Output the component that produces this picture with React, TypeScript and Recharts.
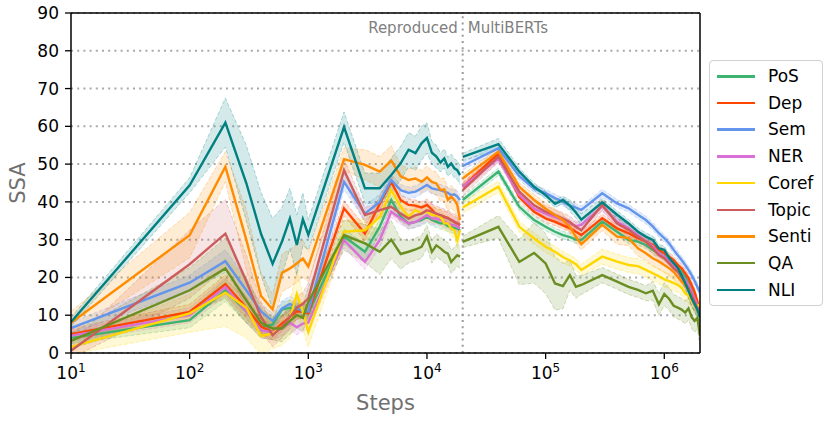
import React from "react";
import {
  ComposedChart,
  Line,
  Area,
  XAxis,
  YAxis,
  CartesianGrid,
  ReferenceLine,
} from "recharts";

// ---------- steps ----------
const reproSteps = [10, 100, 200, 300, 400, 500, 600, 700, 800, 900, 1000, 2000, 3000, 4000, 5000, 6000, 7000, 8000, 9000, 10000, 11000, 12000, 13000, 14000, 15000, 16000, 17000, 18000, 19000];
const gapStep = 19500;
const multiSteps = [20000, 40000, 60000, 80000, 100000, 120000, 140000, 160000, 180000, 200000, 300000, 400000, 500000, 600000, 700000, 800000, 900000, 1000000, 1100000, 1200000, 1300000, 1400000, 1500000, 1600000, 1700000, 1800000, 1900000, 2000000];
const xTicks = [10, 100, 1000, 10000, 100000, 1000000];
const yTicks = [0, 10, 20, 30, 40, 50, 60, 70, 80, 90];

// ---------- mean values (Reproduced) ----------
const posRepro = [4.0, 8.7, 16.6, 11, 7, 7.5, 11.5, 12, 11, 11.4, 10.5, 30.8, 26.8, 33.4, 40.5, 36.1, 34.3, 34.7, 35.2, 36.1, 35.2, 34.7, 34.3, 34.3, 33.6, 33.4, 33.0, 33.0, 32.5];
const depRepro = [5.0, 10.9, 18.2, 12, 7, 5.5, 7.8, 9.5, 11, 11, 10.5, 38.3, 31.6, 39.5, 45.3, 40.5, 39.2, 39.0, 38.5, 39.2, 38.0, 36.5, 36.5, 36.0, 35.8, 35.2, 34.7, 34.3, 33.9];
const semRepro = [6.6, 18.6, 24.3, 16.6, 11, 8.5, 11.8, 13, 12, 11, 11, 45.3, 36.9, 40.0, 45.8, 43.1, 42.4, 42.7, 43.6, 44.5, 43.6, 43.3, 43.1, 42.7, 42.4, 41.8, 42.0, 41.4, 40.5];
const nerRepro = [4.6, 10.0, 17.5, 11, 6, 5.5, 6.5, 8, 6.8, 7.8, 8, 29.9, 24.1, 29.9, 37.4, 35.6, 34.3, 34.7, 35.6, 36.5, 35.6, 35.6, 35.2, 34.7, 34.3, 33.9, 33.9, 33.4, 33.0];
const corefRepro = [1.6, 10.5, 16.0, 12, 4.5, 5.2, 7, 9, 15.6, 11, 5.6, 32.1, 32.5, 36, 43.1, 38.7, 36.1, 37.8, 37, 37.4, 36.5, 36.5, 36.1, 34.3, 34.3, 33.0, 32.5, 29.9, 32.5];
const topicRepro = [0.6, 23.5, 31.6, 19, 9.5, 4.7, 7, 9.5, 12, 13, 14.5, 48.4, 36.5, 37.8, 38.7, 36.9, 35.6, 36.5, 36.9, 37.8, 37.4, 36.9, 36.5, 36.1, 35.6, 35.2, 34.7, 34.3, 33.9];
const sentiRepro = [8.0, 31.2, 49.3, 30, 15.1, 11.5, 21.2, 22.4, 23.7, 25.0, 22.9, 51.3, 49.8, 48.0, 50.9, 46.8, 45.8, 46.2, 45.3, 46.5, 45.3, 44.9, 43.1, 43.3, 40.5, 41.4, 40.5, 39.2, 35.2];
const qaRepro = [3.2, 16.6, 22.4, 14, 8, 6.5, 6.5, 8.5, 10, 9.3, 13.5, 31.2, 29.0, 26.8, 30.0, 26.2, 26.8, 27.4, 28.1, 30.8, 26.8, 28.5, 27.7, 26.8, 26.3, 24.1, 25.0, 25.9, 25.5];
const nliRepro = [8.2, 44.4, 61.0, 45, 31.5, 23.6, 29.5, 35.6, 28.6, 35.4, 31.3, 59.8, 43.6, 43.6, 47.1, 50.2, 53.8, 52.9, 55.5, 56.9, 53.0, 52.0, 50.4, 51.5, 49.3, 50.2, 48.9, 48.4, 47.1];

// ---------- mean values (MultiBERTs) ----------
const posMulti = [40.5, 48.0, 38.7, 35.2, 33.4, 32.1, 31.2, 30.7, 30.0, 29.9, 34.8, 32.1, 29.9, 29.5, 28.6, 27.3, 26.4, 25.5, 24.6, 23.7, 22.4, 21.5, 20.2, 18.4, 16.7, 14.9, 13.1, 10.9];
const depMulti = [44.0, 52.8, 41.3, 37.4, 35.6, 34.7, 33.8, 33.0, 32.1, 31.2, 35.7, 33.0, 31.7, 30.4, 29.5, 28.6, 27.3, 26.4, 25.5, 24.6, 23.3, 22.4, 21.1, 19.8, 18.0, 16.2, 13.6, 10.5];
const semMulti = [49.5, 54.2, 46.8, 43.5, 42.3, 41.0, 40.0, 39.0, 38.5, 37.9, 42.3, 39.6, 38.3, 36.6, 35.2, 33.5, 31.7, 30.4, 29.0, 27.3, 25.9, 24.6, 23.3, 22.0, 20.6, 19.1, 17.5, 16.0];
const nerMulti = [44.0, 51.5, 41.8, 38.2, 36.9, 36.0, 35.2, 34.3, 33.6, 33.9, 38.8, 34.8, 33.0, 31.2, 29.5, 28.2, 26.4, 25.5, 24.2, 22.8, 22.0, 20.6, 19.3, 18.0, 16.2, 14.4, 12.7, 10.9];
const corefMulti = [38.5, 44.0, 33.4, 30.3, 28.1, 26.8, 25.4, 24.5, 23.5, 22.0, 25.5, 24.2, 23.3, 23.0, 22.0, 21.1, 20.3, 19.5, 19.0, 18.5, 18.0, 17.3, 15.8, 15.2, 14.0, 12.8, 12.4, 12.9];
const topicMulti = [43.1, 52.0, 42.7, 39.1, 37.4, 36.5, 35.6, 34.7, 33.4, 32.5, 39.2, 34.3, 32.6, 30.8, 29.5, 27.7, 25.9, 25.1, 23.7, 22.4, 21.5, 20.2, 18.4, 17.1, 15.3, 13.6, 11.8, 10.5];
const sentiMulti = [46.2, 53.3, 44.0, 40.5, 38.2, 36.5, 35.2, 33.4, 30.7, 28.8, 33.9, 30.8, 30.4, 27.7, 26.4, 25.1, 24.2, 23.3, 22.4, 21.5, 20.2, 18.9, 18.0, 16.7, 14.4, 12.7, 11.4, 10.5];
const qaMulti = [29.4, 33.4, 24.1, 26.5, 23.7, 18.4, 17.7, 20.6, 17.5, 18.0, 20.6, 18.9, 17.5, 16.7, 15.8, 16.5, 12.9, 15.6, 14.3, 12.5, 12.0, 11.5, 10.7, 11.8, 9.5, 8.5, 9.3, 4.6];
const nliMulti = [51.9, 55.3, 48.0, 44.0, 41.8, 39.5, 40.5, 39.0, 37.2, 35.3, 39.9, 36.6, 34.3, 32.1, 30.8, 29.9, 27.7, 27.3, 25.1, 23.8, 22.5, 20.5, 18.5, 16.5, 14.5, 13.0, 11.5, 9.5];

// ---------- spread (Reproduced) ----------
const posReproErr = [1.5, 2, 3, 3, 2, 2, 2, 2, 2, 2, 2, 2, 2, 2, 1.5, 1.5, 1.5, 1.5, 1.5, 1.5, 1.5, 1.5, 1.5, 1.5, 1.5, 1.5, 1.5, 1.5, 1.5];
const depReproErr = [1.5, 2, 2.5, 3, 2, 2, 2, 2, 2, 2, 2, 2, 2, 2, 1.5, 1.5, 1.5, 1.5, 1.5, 1.5, 1.5, 1.5, 1.5, 1.5, 1.5, 1.5, 1.5, 1.5, 1.5];
const semReproErr = [1.5, 2, 3, 3, 2, 2, 2, 2, 2, 2, 3, 2, 2, 2, 1.5, 1.5, 1.5, 1.5, 1.5, 1.5, 1.5, 1.5, 1.5, 1.5, 1.5, 1.5, 1.5, 1.5, 1.5];
const nerReproErr = [1.5, 2, 2.5, 3, 2, 2, 2, 2, 2, 2, 2, 2, 2, 2, 1.5, 1.5, 1.5, 1.5, 1.5, 1.5, 1.5, 1.5, 1.5, 1.5, 1.5, 1.5, 1.5, 1.5, 1.5];
const corefReproErr = [2, 5, 9, 8, 5, 4, 5, 5, 6, 5, 4, 3, 3, 3, 2.5, 2, 2, 2, 2, 2, 2, 2, 2, 2, 2, 2, 2, 2, 2];
const topicReproErr = [2, 9, 9, 7, 4, 3, 3, 3, 3, 3, 4, 3, 2, 2, 2, 2, 2, 2, 2, 2, 2, 2, 2, 2, 2, 2, 2, 2, 2];
const sentiReproErr = [3, 6, 4, 8, 6, 4, 5, 5, 5, 5, 4, 3, 4, 4, 4, 3, 3, 3, 3, 3, 3, 3, 3, 3, 3, 3, 3, 3, 3];
const qaReproErr = [2, 6, 8, 6, 4, 3, 3.5, 3.5, 3.5, 3.5, 4, 4, 5, 6, 5, 4, 3, 3, 3, 3, 3, 3, 3, 3, 3, 3, 3, 3, 3];
const nliReproErr = [1.2, 2, 6.5, 10, 11, 12, 9, 8, 8, 7, 4, 4, 4, 4, 4.5, 4.5, 4.5, 4.5, 4.5, 4, 3, 3, 2.5, 2.5, 2.5, 2.5, 2.5, 2.5, 2.5];

// ---------- spread (MultiBERTs) ----------
const posMultiErr = [1, 1, 1, 1, 1, 1, 1, 1, 1, 1, 1, 1, 1, 1, 1, 1, 1, 1, 1, 1, 1, 1, 1, 1, 1, 1, 1, 1];
const depMultiErr = [1, 1, 1, 1, 1, 1, 1, 1, 1, 1, 1, 1, 1, 1, 1, 1, 1, 1, 1, 1, 1, 1, 1, 1, 1, 1, 1, 1];
const semMultiErr = [1, 1, 1, 1, 1, 1, 1, 1, 1, 1, 1, 1, 1, 1, 1, 1, 1, 1, 1, 1, 1, 1, 1, 1, 1, 1, 1, 1];
const nerMultiErr = [1, 1, 1, 1, 1, 1, 1, 1, 1, 1, 1, 1, 1, 1, 1, 1, 1, 1, 1, 1, 1, 1, 1, 1, 1, 1, 1, 1];
const corefMultiErr = [1.5, 1.5, 1.5, 1.5, 1.5, 1.5, 1.5, 1.5, 1.5, 1.5, 2, 2, 2, 2, 2, 2, 2, 2, 2, 2, 2, 2, 2, 2, 2, 2, 2, 2];
const topicMultiErr = [1.5, 1.5, 1.5, 1.5, 1.5, 1.5, 1.5, 1.5, 1.5, 1.5, 1.5, 1.5, 1.5, 1.5, 1.5, 1.5, 1.5, 1.5, 1.5, 1.5, 1.5, 1.5, 1.5, 1.5, 1.5, 1.5, 1.5, 1.5];
const sentiMultiErr = [1, 1, 1, 1.5, 1.5, 1.5, 1.5, 1.5, 1.5, 1.5, 1.5, 2, 2, 2, 2, 2, 2, 2, 2, 2, 2, 2, 2, 2, 2, 2, 2, 2];
const qaMultiErr = [1.5, 3, 6, 8, 8, 7, 6, 4, 3, 2.5, 2, 2, 2, 2, 2, 2.5, 3, 3, 3, 3, 3, 3, 3, 3, 3, 3, 3, 3];
const nliMultiErr = [1, 1.5, 1, 1, 1, 1, 1, 1.5, 1.5, 1.5, 1, 1, 1, 1, 1, 1, 1, 1, 1, 1, 1.2, 1.5, 1.5, 2, 2, 2, 2, 2];

const seriesList = [
  { name: "PoS", color: "#3CB371", repro: posRepro, multi: posMulti, reproErr: posReproErr, multiErr: posMultiErr },
  { name: "Dep", color: "#FF4500", repro: depRepro, multi: depMulti, reproErr: depReproErr, multiErr: depMultiErr },
  { name: "Sem", color: "#6495ED", repro: semRepro, multi: semMulti, reproErr: semReproErr, multiErr: semMultiErr },
  { name: "NER", color: "#DA70D6", repro: nerRepro, multi: nerMulti, reproErr: nerReproErr, multiErr: nerMultiErr },
  { name: "Coref", color: "#FFD700", repro: corefRepro, multi: corefMulti, reproErr: corefReproErr, multiErr: corefMultiErr },
  { name: "Topic", color: "#CD5C5C", repro: topicRepro, multi: topicMulti, reproErr: topicReproErr, multiErr: topicMultiErr },
  { name: "Senti", color: "#FF8C00", repro: sentiRepro, multi: sentiMulti, reproErr: sentiReproErr, multiErr: sentiMultiErr },
  { name: "QA", color: "#6B8E23", repro: qaRepro, multi: qaMulti, reproErr: qaReproErr, multiErr: qaMultiErr },
  { name: "NLI", color: "#008080", repro: nliRepro, multi: nliMulti, reproErr: nliReproErr, multiErr: nliMultiErr },
];

// ---------- table ----------
const rows: any[] = [];
reproSteps.forEach((s, i) => {
  const r: any = { step: s };
  seriesList.forEach((ser) => {
    r[ser.name] = ser.repro[i];
    r[ser.name + "_band"] = [ser.repro[i] - ser.reproErr[i], ser.repro[i] + ser.reproErr[i]];
  });
  rows.push(r);
});
{
  const g: any = { step: gapStep };
  seriesList.forEach((ser) => {
    g[ser.name] = null;
    g[ser.name + "_band"] = null;
  });
  rows.push(g);
}
multiSteps.forEach((s, i) => {
  const r: any = { step: s };
  seriesList.forEach((ser) => {
    r[ser.name] = ser.multi[i];
    r[ser.name + "_band"] = [ser.multi[i] - ser.multiErr[i], ser.multi[i] + ser.multiErr[i]];
  });
  rows.push(r);
});

const FONT = "'DejaVu Sans', sans-serif";

const LogTick = (props: any) => {
  const { x, y, payload } = props;
  const exp = Math.round(Math.log10(payload.value));
  return (
    <text x={x} y={y + 18} textAnchor="middle" fontSize={17} fontFamily={FONT} fill="#000">
      <tspan>10</tspan>
      <tspan dy={-7.5} fontSize={12}>{exp}</tspan>
    </text>
  );
};

const SplitLabel = (props: any) => {
  const vb = props.viewBox || {};
  return (
    <g>
      <text x={vb.x - 5} y={vb.y + 20} textAnchor="end" fontSize={15} fontFamily={FONT} fill="#7f7f7f">
        Reproduced
      </text>
      <text x={vb.x + 5} y={vb.y + 20} textAnchor="start" fontSize={15} fontFamily={FONT} fill="#7f7f7f">
        MultiBERTs
      </text>
    </g>
  );
};

const XLabel = (props: any) => {
  const vb = props.viewBox || {};
  return (
    <text x={vb.x + vb.width / 2} y={vb.y + 56.5} textAnchor="middle" fontSize={21} fontFamily={FONT} fill="#707070">
      Steps
    </text>
  );
};

const YLabel = (props: any) => {
  const vb = props.viewBox || {};
  const cx = 25;
  const cy = vb.y + vb.height / 2;
  return (
    <text x={cx} y={cy} transform={`rotate(-90 ${cx} ${cy})`} textAnchor="middle" fontSize={21} fontFamily={FONT} fill="#707070">
      SSA
    </text>
  );
};

const LegendBox = () => (
  <div
    style={{
      position: "absolute",
      left: 709,
      top: 60,
      width: 114,
      height: 246,
      border: "1px solid #d0d0d0",
      borderRadius: 4,
      background: "#fff",
      boxSizing: "border-box",
      fontFamily: FONT,
    }}
  >
    {seriesList.map((s, i) => (
      <div key={s.name} style={{ position: "absolute", left: 0, top: 2 + i * 26.7, height: 26, width: 112 }}>
        <div style={{ position: "absolute", left: 7, top: 12, width: 38, height: 2.6, background: s.color }} />
        <div style={{ position: "absolute", left: 58, top: 2, fontSize: 17, lineHeight: "22px", color: "#000" }}>{s.name}</div>
      </div>
    ))}
  </div>
);

export default function App() {
  return (
    <div style={{ position: "absolute", left: 0, top: 0, width: 830, height: 421, background: "#fff" }}>
      <ComposedChart
        width={830}
        height={421}
        data={rows}
        margin={{ top: 13, right: 130, bottom: 20, left: 0 }}
      >
        <CartesianGrid horizontal vertical={false} stroke="#a9a9a9" strokeWidth={2} strokeDasharray="2 4.2" />
        <XAxis
          dataKey="step"
          type="number"
          scale="log"
          domain={[10, 2000000]}
          ticks={xTicks}
          allowDataOverflow
          height={48}
          tick={<LogTick />}
          tickSize={6}
          tickLine={{ stroke: "#000", strokeWidth: 1.3 }}
          axisLine={{ stroke: "#000", strokeWidth: 1.5 }}
          label={<XLabel />}
        />
        <YAxis
          type="number"
          domain={[0, 90]}
          ticks={yTicks}
          allowDataOverflow
          width={71}
          tickSize={6}
          tickMargin={6}
          tick={{ fontSize: 17, fontFamily: FONT, fill: "#000" }}
          tickLine={{ stroke: "#000", strokeWidth: 1.3 }}
          axisLine={{ stroke: "#000", strokeWidth: 1.5 }}
          label={<YLabel />}
        />
        {seriesList.map((s) => (
          <Area
            key={s.name + "_band"}
            dataKey={s.name + "_band"}
            type="linear"
            stroke={s.color}
            strokeOpacity={0.3}
            strokeDasharray="4 2"
            strokeWidth={1}
            fill={s.color}
            fillOpacity={0.17}
            isAnimationActive={false}
            connectNulls={false}
            dot={false}
            activeDot={false}
            legendType="none"
          />
        ))}
        <ReferenceLine x={20000} stroke="#9a9a9a" strokeWidth={2} strokeDasharray="2 4.2" label={<SplitLabel />} />
        {seriesList.map((s) => (
          <Line
            key={s.name}
            dataKey={s.name}
            type="linear"
            stroke={s.color}
            strokeWidth={2.4}
            dot={false}
            activeDot={false}
            connectNulls={false}
            isAnimationActive={false}
          />
        ))}
        <ReferenceLine y={90} stroke="#000" strokeWidth={1.5} />
        <ReferenceLine x={2000000} stroke="#000" strokeWidth={1.5} />
      </ComposedChart>
      <LegendBox />
    </div>
  );
}
